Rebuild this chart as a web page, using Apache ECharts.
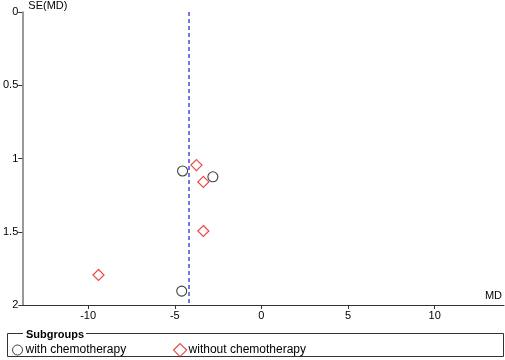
<!DOCTYPE html>
<html>
<head>
<meta charset="utf-8">
<script src="https://cdn.jsdelivr.net/npm/echarts@6/dist/echarts.min.js"></script>
<style>
  html, body { margin: 0; padding: 0; background: #fff; }
  #chart { width: 505px; height: 360px; }
</style>
</head>
<body>
<div id="chart"></div>
<script>
  // funnel plot: MD vs SE(MD)
  const withChemo = [[-4.55, 1.085], [-2.8, 1.125], [-4.6, 1.905]]
  const withoutChemo = [[-3.75, 1.045], [-3.35, 1.16], [-3.35, 1.495], [-9.4, 1.795]]
  const pooledMD = -4.2
  const xTicks = [-10, -5, 0, 5, 10]
  const yTicks = [0, 0.5, 1, 1.5, 2]
  const seriesNames = ['with chemotherapy', 'without chemotherapy']

  const chart = echarts.init(document.getElementById('chart'))
  const font = 'Arial, "Liberation Sans", sans-serif'

  chart.setOption({
    animation: false,
    textStyle: { fontFamily: font },
    grid: { left: 21, right: 0, top: 12, bottom: 55 },
    xAxis: {
      type: 'value',
      min: -13.8,
      max: 14,
      name: 'MD',
      nameLocation: 'end',
      nameGap: 0,
      nameTextStyle: { color: '#000', fontSize: 11, align: 'right', verticalAlign: 'bottom', padding: [0, 2, 4, 0] },
      splitLine: { show: false },
      axisLine: { onZero: false, lineStyle: { color: '#333', width: 1 } },
      axisTick: { customValues: xTicks, length: 4, lineStyle: { color: '#333' } },
      axisLabel: { customValues: xTicks, color: '#000', fontSize: 11, margin: 5 }
    },
    yAxis: {
      type: 'value',
      inverse: true,
      min: 0,
      max: 2,
      name: 'SE(MD)',
      nameLocation: 'start',
      nameGap: 0,
      nameTextStyle: { color: '#000', fontSize: 11, align: 'left', verticalAlign: 'bottom', padding: [0, 0, 1, 6] },
      splitLine: { show: false },
      axisLine: { onZero: false, lineStyle: { color: '#777', width: 1.5 } },
      axisTick: { customValues: yTicks, length: 4, lineStyle: { color: '#333' } },
      axisLabel: { customValues: yTicks, color: '#000', fontSize: 11, margin: 4, formatter: v => String(v) }
    },
    legend: [{
      data: [seriesNames[0]],
      left: 7,
      top: 339,
      itemWidth: 10,
      itemHeight: 10,
      itemGap: 4,
      itemStyle: { borderWidth: 1 },
      textStyle: { color: '#000', fontSize: 12, padding: [2, 0, 0, -2] }
    }, {
      data: [seriesNames[1]],
      left: 168,
      top: 338,
      itemWidth: 13,
      itemHeight: 13,
      itemStyle: { borderWidth: 1.2 },
      textStyle: { color: '#000', fontSize: 12, padding: [2, 0, 0, -3] }
    }],
    graphic: [{
      type: 'rect',
      shape: { x: 7.5, y: 333.5, width: 496, height: 23 },
      style: { fill: 'none', stroke: '#333', lineWidth: 1 }
    }, {
      type: 'rect',
      shape: { x: 23, y: 328, width: 63, height: 10 },
      style: { fill: '#fff' }
    }, {
      type: 'text',
      x: 26,
      y: 329,
      style: { text: 'Subgroups', fill: '#000', font: 'bold 11px ' + font }
    }],
    series: [{
      name: seriesNames[0],
      type: 'scatter',
      data: withChemo,
      symbol: 'circle',
      symbolSize: 10,
      itemStyle: { color: 'transparent', borderColor: '#111', borderWidth: 1.1 },
      markLine: {
        silent: true,
        symbol: 'none',
        label: { show: false },
        lineStyle: { color: '#4a4ae6', type: [4, 3], width: 1.5 },
        data: [{ xAxis: pooledMD }]
      }
    }, {
      name: seriesNames[1],
      type: 'scatter',
      data: withoutChemo,
      symbol: 'diamond',
      symbolSize: 11,
      itemStyle: { color: 'transparent', borderColor: '#e21c1c', borderWidth: 1.2 }
    }]
  })
</script>
</body>
</html>
